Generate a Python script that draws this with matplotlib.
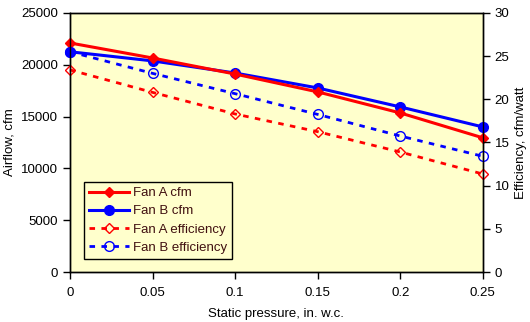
import matplotlib.pyplot as plt

# Data
pressure = [0, 0.05, 0.1, 0.15, 0.2, 0.25]
fan_a_cfm = [22100, 20650, 19100, 17380, 15350, 12950]
fan_b_cfm = [21250, 20370, 19200, 17760, 15930, 14000]
fan_a_eff = [23.4, 20.8, 18.3, 16.25, 13.9, 11.35]
fan_b_eff = [25.5, 23.0, 20.65, 18.25, 15.75, 13.4]

plt.rcParams['font.family'] = ['Liberation Sans', 'DejaVu Sans']
plt.rcParams['font.size'] = 9.5

fig = plt.figure(figsize=(5.3, 3.22), dpi=100)
ax = fig.add_axes([0.132, 0.155, 0.779, 0.805])
ax.set_facecolor('#FFFFCC')
ax2 = ax.twinx()

la, = ax.plot(pressure, fan_a_cfm, color='#FF0000', lw=2.2, marker='D', ms=5,
              label='Fan A cfm', zorder=4, clip_on=False)
lb, = ax.plot(pressure, fan_b_cfm, color='#0000FF', lw=2.2, marker='o', ms=7,
              label='Fan B cfm', zorder=3, clip_on=False)
ea, = ax2.plot(pressure, fan_a_eff, color='#FF0000', lw=2, ls=(0, (2, 2.3)),
               marker='D', ms=5, mfc='none', mew=1, label='Fan A efficiency',
               clip_on=False)
eb, = ax2.plot(pressure, fan_b_eff, color='#0000FF', lw=2, ls=(0, (2, 2.3)),
               marker='o', ms=7, mfc='none', mew=1, label='Fan B efficiency',
               clip_on=False)

ax.set_xlim(0, 0.25)
ax.set_ylim(0, 25000)
ax2.set_ylim(0, 30)
ax.set_xticks(pressure)
ax.set_xticklabels(['0', '0.05', '0.1', '0.15', '0.2', '0.25'])
ax.set_yticks(range(0, 25001, 5000))
ax2.set_yticks(range(0, 31, 5))

for a in (ax, ax2):
    a.tick_params(direction='out', length=5, width=1, colors='black', labelsize=9.5)
    for s in a.spines.values():
        s.set_linewidth(1)
ax.tick_params(axis='x', pad=6)

ax.set_xlabel('Static pressure, in. w.c.', fontsize=9.5, labelpad=6)
ax.set_ylabel('Airflow, cfm', fontsize=9.5, labelpad=4)
ax2.set_ylabel('Efficiency, cfm/watt', fontsize=9.5, labelpad=4)

leg = ax2.legend(handles=[la, lb, ea, eb], loc='lower left',
                 bbox_to_anchor=(0.018, 0.025), fancybox=False,
                 edgecolor='black', framealpha=1, facecolor='#FFFFCC',
                 handlelength=3.0, handletextpad=0.3, borderpad=0.4,
                 labelspacing=0.45, fontsize=9.5)
leg.get_frame().set_linewidth(1)
for t in leg.get_texts():
    t.set_color('#401010')

fig.savefig('out.png', dpi=100)
